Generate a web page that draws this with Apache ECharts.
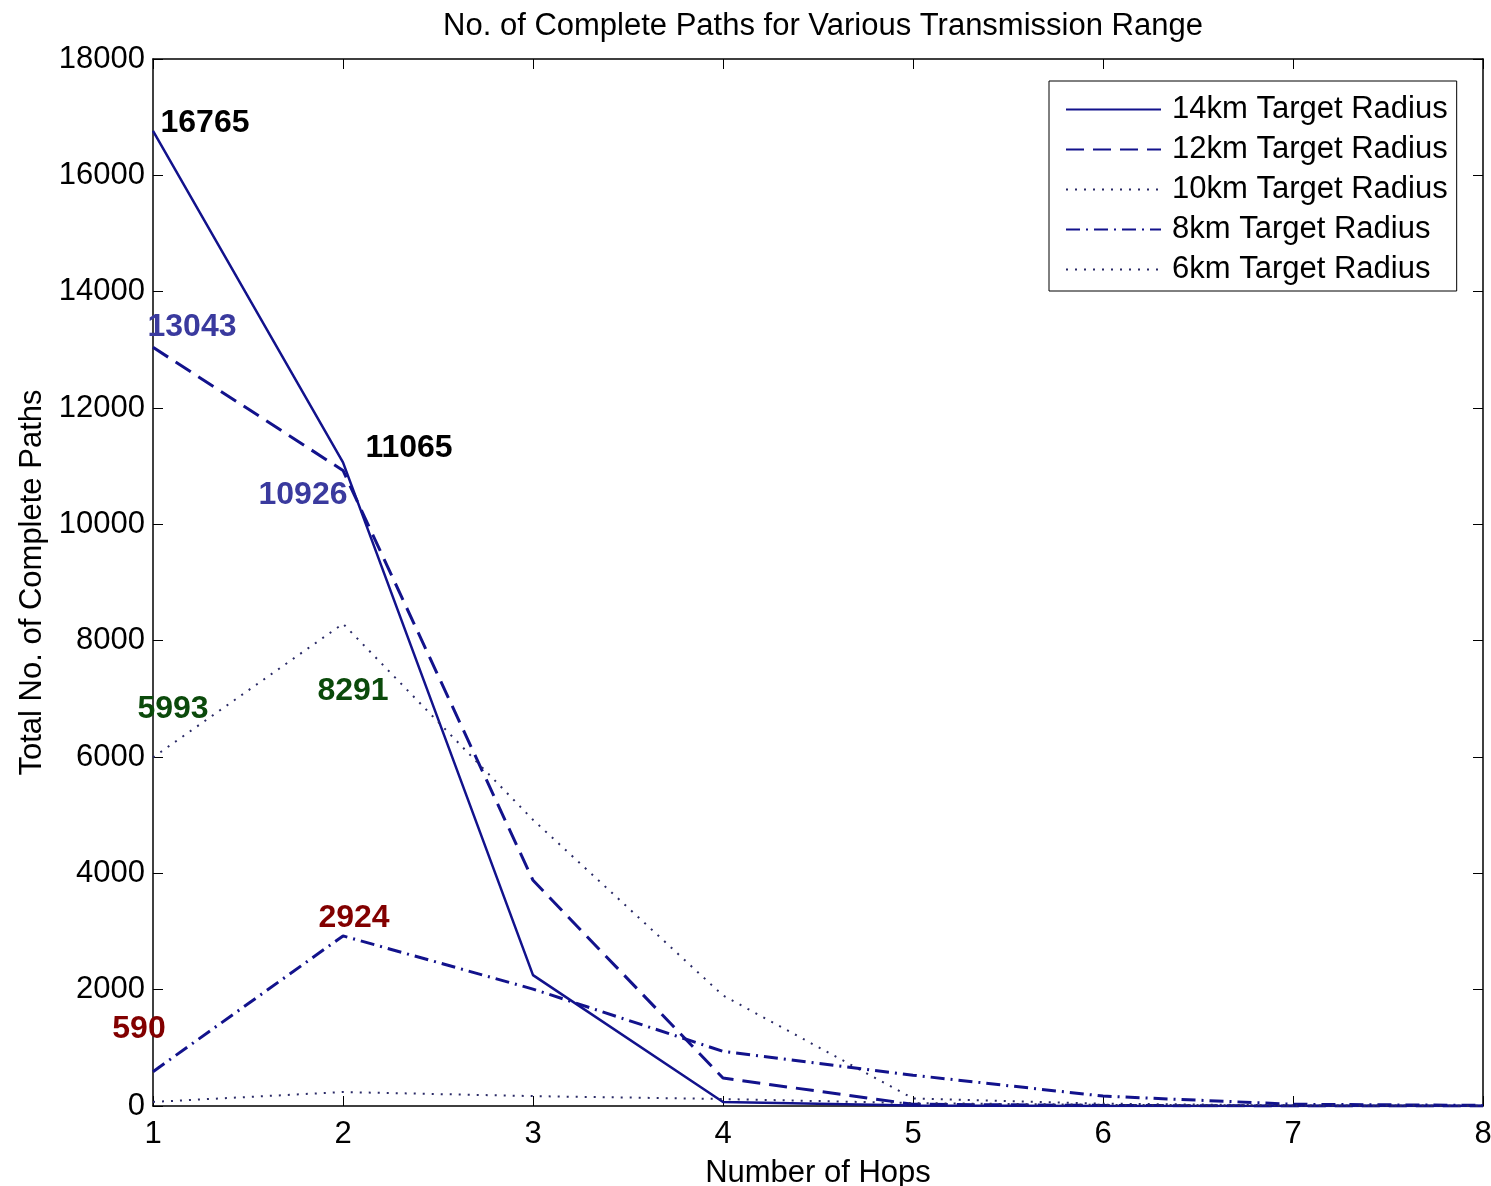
<!DOCTYPE html>
<html>
<head>
<meta charset="utf-8">
<script src="https://cdn.jsdelivr.net/npm/echarts@6/dist/echarts.min.js"></script>
<style>html,body{margin:0;padding:0;background:#fff;overflow:hidden}#c{width:1491px;height:1186px}</style>
</head>
<body>
<div id="c"></div>
<script>
const hops = [1, 2, 3, 4, 5, 6, 7, 8];
const seriesNames = ['14km Target Radius', '12km Target Radius', '10km Target Radius', '8km Target Radius', '6km Target Radius'];
const r14 = [16765, 11065, 2250, 70, 10, 0, 0, 0];
const r12 = [13043, 10926, 3880, 480, 30, 10, 0, 0];
const r10 = [5993, 8291, 4920, 1900, 130, 40, 10, 0];
const r8 = [590, 2924, 2010, 940, 530, 170, 30, 10];
const r6 = [70, 240, 170, 120, 50, 20, 10, 5];
const yTicks = [0, 2000, 4000, 6000, 8000, 10000, 12000, 14000, 16000, 18000];
// annotated values and the hop they belong to
const annHops = [1, 2, 1, 2, 1, 2, 1, 2];
const annValues = [16765, 11065, 13043, 10926, 5993, 8291, 590, 2924];

const annColors = ['#000000', '#000000', '#3a3a9e', '#3a3a9e', '#0b4a0b', '#0b4a0b', '#820000', '#820000'];
const annOffsets = [[52, -8], [66, -14], [39, -20], [-40, 25], [20, -48], [10, 67], [-14, -43], [11, -18]];

const FONT = 'Liberation Sans, Arial, sans-serif';
const NAVY = '#12128c';
const DOT = '#2a2a66';

function pairs(arr) { return hops.map((h, i) => [h, arr[i]]); }

const chart = echarts.init(document.getElementById('c'), null, {renderer: 'canvas'});
const axisCommon = {
  axisLine: {show: true, onZero: false, lineStyle: {color: '#000', width: 1.5}},
  splitLine: {show: false}
};
chart.setOption({
  backgroundColor: '#fff',
  animation: false,
  title: {
    text: 'No. of Complete Paths for Various Transmission Range',
    left: 818, textAlign: 'center', top: 6,
    textStyle: {fontFamily: FONT, fontWeight: 'normal', fontSize: 31, color: '#000'}
  },
  grid: {left: 153, right: 8, top: 59, bottom: 80, outerBoundsMode: 'none', containLabel: false},
  legend: {
    data: seriesNames,
    orient: 'vertical',
    left: 1049, top: 81,
    padding: [13, 9, 6, 16],
    itemWidth: 95, itemHeight: 20, itemGap: 9,
    itemStyle: {opacity: 0},
    borderColor: '#000', borderWidth: 1, backgroundColor: '#fff',
    textStyle: {fontFamily: FONT, fontSize: 31, color: '#000', padding: [0, 0, 0, 6]}
  },
  xAxis: [
    Object.assign({
      type: 'value', min: 1, max: 8, interval: 1, position: 'bottom',
      name: 'Number of Hops', nameLocation: 'middle', nameGap: 52,
      nameTextStyle: {fontFamily: FONT, fontSize: 31, color: '#000'},
      axisTick: {show: true, inside: true, length: 10, lineStyle: {color: '#000'}},
      axisLabel: {fontFamily: FONT, fontSize: 31, color: '#000', margin: 13}
    }, axisCommon),
    Object.assign({
      type: 'value', min: 1, max: 8, interval: 1, position: 'top',
      axisTick: {show: true, inside: true, length: 10, lineStyle: {color: '#000'}},
      axisLabel: {show: false}
    }, axisCommon)
  ],
  yAxis: [
    Object.assign({
      type: 'value', min: 0, max: 18000, interval: 2000, position: 'left',
      name: 'Total No. of Complete Paths', nameLocation: 'middle', nameGap: 105,
      nameTextStyle: {fontFamily: FONT, fontSize: 31, color: '#000'},
      axisTick: {show: true, inside: true, length: 10, lineStyle: {color: '#000'}},
      axisLabel: {fontFamily: FONT, fontSize: 31, color: '#000', margin: 8,
        formatter: v => yTicks.includes(v) ? String(v) : ''}
    }, axisCommon),
    Object.assign({
      type: 'value', min: 0, max: 18000, interval: 2000, position: 'right',
      axisTick: {show: true, inside: true, length: 10, lineStyle: {color: '#000'}},
      axisLabel: {show: false}
    }, axisCommon)
  ],
  series: [
    {name: seriesNames[0], type: 'line', data: pairs(r14), symbol: 'none', color: NAVY,
      lineStyle: {color: NAVY, width: 2.5, type: 'solid'}},
    {name: seriesNames[1], type: 'line', data: pairs(r12), symbol: 'none', color: NAVY,
      lineStyle: {color: NAVY, width: 3, type: [18, 9]}},
    {name: seriesNames[2], type: 'line', data: pairs(r10), symbol: 'none', color: DOT,
      lineStyle: {color: DOT, width: 2, type: [2, 7]}},
    {name: seriesNames[3], type: 'line', data: pairs(r8), symbol: 'none', color: NAVY,
      lineStyle: {color: NAVY, width: 3, type: [14, 6, 2, 6]}},
    {name: seriesNames[4], type: 'line', data: pairs(r6), symbol: 'none', color: DOT,
      lineStyle: {color: DOT, width: 2, type: [2, 7]}},
    {name: 'annotations', type: 'scatter', symbolSize: 0, silent: true, z: 10,
      itemStyle: {opacity: 1},
      data: annHops.map((h, i) => ({
        value: [h, annValues[i]],
        label: {show: true, position: 'inside', formatter: String(annValues[i]),
          offset: annOffsets[i], color: annColors[i], opacity: 1,
          fontFamily: FONT, fontWeight: 'bold', fontSize: 32}
      }))}
  ]
});
</script>
</body>
</html>
